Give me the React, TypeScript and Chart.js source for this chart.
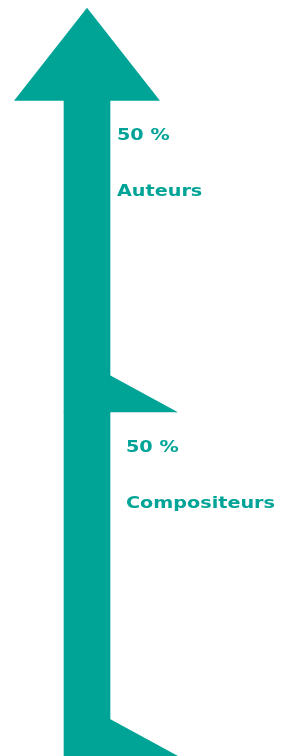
import React, { useEffect, useRef } from "react";
import { Chart, registerables } from "chart.js";

Chart.register(...registerables);

// Data
const categories = [""];
const seriesNames = ["Compositeurs", "Auteurs"];
const compositeursValues = [50];
const auteursValues = [50];
const valueLabels = ["50 %", "50 %"];

const TEAL = "#00A497";

const arrowPlugin = {
  id: "arrowDecor",
  afterDatasetsDraw(chart: any) {
    const ctx = chart.ctx;
    const metas = chart.data.datasets.map((_: any, i: number) => chart.getDatasetMeta(i));
    const topMeta = metas[metas.length - 1];
    const topBar = topMeta.data[0];
    const right = topBar.x + topBar.width / 2;
    const cx = topBar.x;
    const headBase = topBar.y + 32;
    const headApex = topBar.y - 61;
    const headHalf = 73;

    ctx.save();
    ctx.fillStyle = TEAL;
    // arrow head
    ctx.beginPath();
    ctx.moveTo(cx, headApex);
    ctx.lineTo(cx + headHalf, headBase);
    ctx.lineTo(cx - headHalf, headBase);
    ctx.closePath();
    ctx.fill();

    // flags at the base of each segment
    metas.forEach((meta: any) => {
      const bar = meta.data[0];
      const baseY = bar.base;
      ctx.beginPath();
      ctx.moveTo(right, baseY - 37);
      ctx.lineTo(right + 68, baseY);
      ctx.lineTo(right, baseY);
      ctx.closePath();
      ctx.fill();
    });

    // labels
    ctx.font = 'bold 16px "DejaVu Sans"';
    ctx.textBaseline = "middle";
    ctx.textAlign = "left";
    metas.forEach((meta: any, i: number) => {
      const bar = meta.data[0];
      const isTop = i === metas.length - 1;
      const visibleTop = isTop ? headBase : bar.y;
      const x = right + (isTop ? 7 : 16);
      const lines = [valueLabels[i], chart.data.datasets[i].label];
      lines.forEach((t: string, k: number) => {
        ctx.save();
        ctx.translate(x, visibleTop + 35 + k * 56);
        ctx.scale(1.2, 1);
        ctx.fillText(t, 0, 0);
        ctx.restore();
      });
    });
    ctx.restore();
  },
};

export default function App() {
  const ref = useRef<HTMLCanvasElement>(null);
  useEffect(() => {
    if (!ref.current) return;
    const chart = new Chart(ref.current, {
      type: "bar",
      data: {
        labels: categories,
        datasets: [
          { label: seriesNames[0], data: compositeursValues, backgroundColor: TEAL, borderWidth: 0, barThickness: 46 },
          { label: seriesNames[1], data: auteursValues, backgroundColor: TEAL, borderWidth: 0, barThickness: 46 },
        ],
      },
      options: {
        responsive: false,
        animation: false,
        layout: { padding: { left: 0, right: 111, top: 0, bottom: 0 } },
        plugins: { legend: { display: false }, tooltip: { enabled: false }, title: { display: false } },
        scales: {
          x: { display: false, stacked: true },
          y: { display: false, stacked: true, min: 0, max: 110 },
        },
      },
      plugins: [arrowPlugin],
    });
    return () => chart.destroy();
  }, []);
  return (
    <div style={{ position: "fixed", left: 0, top: 0, width: 285, height: 756, background: "#fff" }}>
      <canvas ref={ref} width={285} height={756} style={{ display: "block" }} />
    </div>
  );
}
